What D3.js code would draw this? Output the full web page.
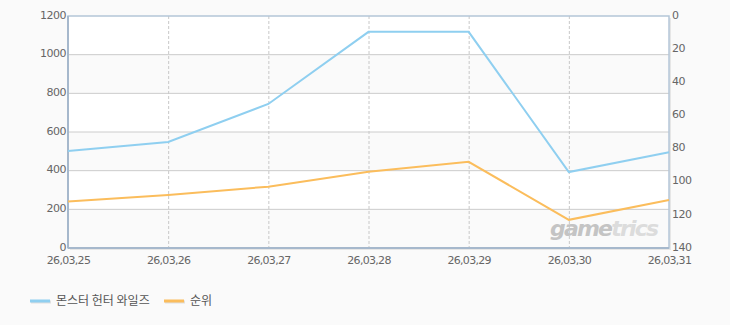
<!DOCTYPE html>
<html>
<head>
<meta charset="utf-8">
<script src="https://cdn.jsdelivr.net/npm/d3@7"></script>
<style>
  body { margin: 0; background: #fafafa; }
  svg { display: block; font-family: "Noto Sans CJK KR", "DejaVu Sans", sans-serif; }
</style>
</head>
<body>
<div id="chart"></div>
<script>
const dates = ["26.03.25", "26.03.26", "26.03.27", "26.03.28", "26.03.29", "26.03.30", "26.03.31"];
const players = [502, 548, 745, 1118, 1118, 393, 495];
const ranks = [112, 108, 103, 94, 88, 123, 111];
const leftTicks = [0, 200, 400, 600, 800, 1000, 1200];
const rightTicks = [0, 20, 40, 60, 80, 100, 120, 140];
const seriesNames = ["몬스터 헌터 와일즈", "순위"];
const colors = ["#8fcff0", "#fbbd5c"];

const width = 730, height = 325;
const margin = { top: 16, right: 61, bottom: 77, left: 68 };

const svg = d3.select("#chart").append("svg")
  .attr("width", width).attr("height", height);

svg.append("rect").attr("width", width).attr("height", height).attr("fill", "#fafafa");

const x = d3.scalePoint().domain(dates).range([margin.left, width - margin.right]);
const yL = d3.scaleLinear().domain([0, 1200]).range([height - margin.bottom, margin.top]);
const yR = d3.scaleLinear().domain([0, 140]).range([margin.top, height - margin.bottom]);

const x0 = margin.left, x1 = width - margin.right;

// drop shadow of plot frame
svg.append("rect")
  .attr("x", x0 + 2).attr("y", yL(1200) + 2)
  .attr("width", x1 - x0).attr("height", yL(0) - yL(1200))
  .attr("fill", "#e6e6e6");

// alternating bands
svg.selectAll("rect.band")
  .data(leftTicks.slice(0, -1))
  .enter().append("rect")
  .attr("class", "band")
  .attr("x", x0).attr("width", x1 - x0)
  .attr("y", d => yL(d + 200))
  .attr("height", d => yL(d) - yL(d + 200))
  .attr("fill", (d, i) => (i % 2 === 0 ? "#fafafa" : "#ffffff"));

// horizontal grid
svg.selectAll("line.hgrid")
  .data(leftTicks.slice(1, -1))
  .enter().append("line")
  .attr("x1", x0).attr("x2", x1)
  .attr("y1", d => yL(d)).attr("y2", d => yL(d))
  .attr("stroke", "#cccccc").attr("stroke-width", 1);

// vertical dashed grid
svg.selectAll("line.vgrid")
  .data(dates.slice(1, -1))
  .enter().append("line")
  .attr("x1", d => x(d) + 0.5).attr("x2", d => x(d) + 0.5)
  .attr("y1", yL(1200)).attr("y2", yL(0))
  .attr("stroke", "#c8c8c8").attr("stroke-dasharray", "3,2");

// watermark
const wm = svg.append("text")
  .attr("x", 550).attr("y", 236)
  .attr("font-family", "DejaVu Sans, sans-serif")
  .attr("font-size", 22).attr("font-weight", "bold").attr("font-style", "italic")
  .attr("letter-spacing", -1.8);
wm.append("tspan").attr("fill", "#c4c4c4").text("game");
wm.append("tspan").attr("fill", "#dcdcdc").text("trics");

// frame
svg.append("rect")
  .attr("x", x0).attr("y", yL(1200))
  .attr("width", x1 - x0).attr("height", yL(0) - yL(1200))
  .attr("fill", "none").attr("stroke", "#b4c6d8").attr("stroke-width", 1.5);
svg.append("line")
  .attr("x1", x0).attr("x2", x0).attr("y1", yL(1200)).attr("y2", yL(0))
  .attr("stroke", "#a6b8cc").attr("stroke-width", 2);
svg.append("line")
  .attr("x1", x0).attr("x2", x1).attr("y1", yL(0)).attr("y2", yL(0))
  .attr("stroke", "#a6b8cc").attr("stroke-width", 2);

// lines
const lineL = d3.line().x((d, i) => x(dates[i])).y(d => yL(d));
const lineR = d3.line().x((d, i) => x(dates[i])).y(d => yR(d));

svg.append("path").datum(ranks)
  .attr("d", lineR).attr("fill", "none")
  .attr("stroke", colors[1]).attr("stroke-width", 2);
svg.append("path").datum(players)
  .attr("d", lineL).attr("fill", "none")
  .attr("stroke", colors[0]).attr("stroke-width", 2);

// axes
const tickStyle = g => g.selectAll("text")
  .attr("fill", "#666").attr("font-size", 11)
  .attr("font-family", "DejaVu Sans, sans-serif");

const axL = svg.append("g")
  .attr("transform", `translate(${x0},0)`)
  .call(d3.axisLeft(yL).tickValues(leftTicks).tickFormat(d3.format("d")).tickSize(0).tickPadding(2));
axL.select(".domain").remove();
axL.call(tickStyle);
axL.selectAll("text").attr("dy", "0.2em").attr("letter-spacing", -0.5);

const axR = svg.append("g")
  .attr("transform", `translate(${x1},0)`)
  .call(d3.axisRight(yR).tickValues(rightTicks).tickSize(0).tickPadding(3));
axR.select(".domain").remove();
axR.call(tickStyle);
axR.selectAll("text").attr("dy", "0.2em").attr("letter-spacing", -0.5);

const axB = svg.append("g")
  .attr("transform", `translate(0,${yL(0)})`)
  .call(d3.axisBottom(x).tickSize(0).tickPadding(8).tickFormat(d => d.replace(/\./g, ",")));
axB.select(".domain").remove();
axB.call(tickStyle);
axB.selectAll("text").attr("letter-spacing", -0.7);

// legend
const legend = svg.append("g").attr("transform", "translate(0,300)");
const legendX = [30, 164];
seriesNames.forEach((name, i) => {
  const g = legend.append("g").attr("transform", `translate(${legendX[i]},0)`);
  g.append("line").attr("x1", 1).attr("x2", 21).attr("y1", 2).attr("y2", 2)
    .attr("stroke", "#e0e0e0").attr("stroke-width", 3);
  g.append("line").attr("x1", 0).attr("x2", 20).attr("y1", 1).attr("y2", 1)
    .attr("stroke", colors[i]).attr("stroke-width", 3);
  g.append("text").attr("x", 26).attr("y", 1).attr("dy", "0.35em")
    .attr("font-size", 12).attr("fill", "#555").text(name);
});
</script>
</body>
</html>
